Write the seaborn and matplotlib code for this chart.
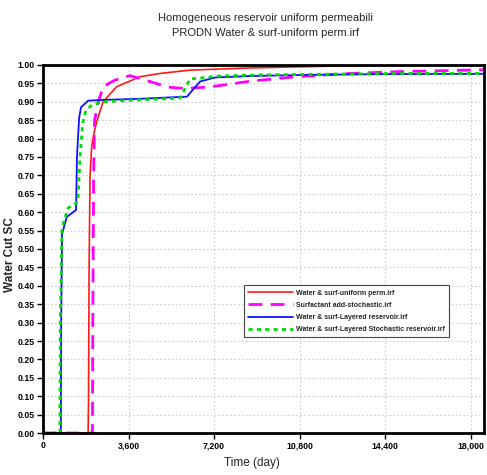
import matplotlib
matplotlib.use("Agg")
import matplotlib.pyplot as plt
import seaborn as sns
import numpy as np
from matplotlib.ticker import FuncFormatter, MultipleLocator

sns.set_style("white")
plt.rcParams['font.family'] = ['Liberation Sans Narrow', 'DejaVu Sans Condensed', 'Liberation Sans', 'DejaVu Sans']

title_lines = ["Homogeneous reservoir uniform permeabili", "PRODN Water & surf-uniform perm.irf"]
labels = ["Water & surf-uniform perm.irf",
          "Surfactant add-stochastic.irf",
          "Water & surf-Layered reservoir.irf",
          "Water & surf-Layered Stochastic reservoir.irf"]

# Water & surf-uniform perm
t_red = [0, 1900, 1915, 1940, 1980, 2050, 2150, 2260, 2530, 3100, 4080, 4930, 6190, 7870, 8720, 10820, 12210, 15030, 18560]
w_red = [0.0, 0.0, 0.08, 0.45, 0.70, 0.78, 0.816, 0.846, 0.90, 0.941, 0.968, 0.977, 0.986, 0.990, 0.992, 0.995, 0.997, 0.999, 1.0]

# Surfactant add-stochastic
t_mag = [0, 2080, 2100, 2130, 2170, 2330, 2530, 3030, 3660, 4500, 5260, 5770, 6190, 6950, 7880, 8720, 10820, 12920, 15020, 17840, 18560]
w_mag = [0.0, 0.0, 0.35, 0.70, 0.85, 0.90, 0.941, 0.959, 0.971, 0.955, 0.940, 0.937, 0.937, 0.940, 0.948, 0.956, 0.969, 0.977, 0.982, 0.986, 0.987]

# Water & surf-Layered reservoir
t_blu = [0, 750, 765, 800, 1000, 1390, 1430, 1520, 1600, 1900, 2500, 4000, 6060, 6610, 7240, 8720, 11000, 14000, 18560]
w_blu = [0.0, 0.0, 0.30, 0.54, 0.587, 0.606, 0.75, 0.856, 0.885, 0.903, 0.905, 0.908, 0.914, 0.955, 0.966, 0.970, 0.973, 0.975, 0.976]

# Water & surf-Layered Stochastic reservoir
t_grn = [0, 710, 725, 800, 1050, 1470, 1560, 1670, 1800, 2050, 2530, 4000, 5770, 6190, 7450, 9000, 12000, 15000, 18560]
w_grn = [0.0, 0.0, 0.30, 0.557, 0.611, 0.628, 0.75, 0.842, 0.875, 0.891, 0.900, 0.905, 0.910, 0.962, 0.970, 0.973, 0.975, 0.977, 0.977]

series = [(t_red, w_red), (t_mag, w_mag), (t_blu, w_blu), (t_grn, w_grn)]
colors = ["#ff1a1a", "#ff00ff", "#1010ff", "#00dd00"]
widths = [1.2, 2.0, 1.3, 2.0]
dashes = [None, (5, 3), None, (1.5, 1.5)]

fig = plt.figure(figsize=(4.87, 4.75), dpi=100)
ax = fig.add_axes([0.0883, 0.0884, 0.9055, 0.7748])

for (t, w), lab, c, lw, ds in zip(series, labels, colors, widths, dashes):
    sns.lineplot(x=t, y=w, ax=ax, color=c, linewidth=lw, label=lab, sort=False)
    if ds is not None:
        ax.lines[-1].set_dashes(ds)

ax.set_xlim(0, 18560)
ax.set_ylim(0, 1.0)
ax.xaxis.set_major_locator(MultipleLocator(3600))
ax.yaxis.set_major_locator(MultipleLocator(0.05))
ax.xaxis.set_major_formatter(FuncFormatter(lambda v, p: f"{int(v):,}"))
ax.yaxis.set_major_formatter(FuncFormatter(lambda v, p: f"{v:.2f}"))
ax.grid(True, color="#cccccc", linestyle=(0, (1.5, 2)), linewidth=0.8)
for s in ax.spines.values():
    s.set_color("black")
    s.set_linewidth(2.0)
ax.tick_params(axis="both", direction="out", length=4, width=1, colors="black",
               labelsize=6.3, bottom=True, left=True, pad=2)
for lbl in ax.get_xticklabels() + ax.get_yticklabels():
    lbl.set_fontweight("bold")

ax.set_xlabel("Time (day)", fontsize=8.5)
ax.xaxis.set_label_coords(0.474, -0.065)
ax.set_ylabel("Water Cut SC", fontsize=8.5, fontweight="bold")
ax.yaxis.set_label_coords(-0.062, 0.486)

leg = ax.legend(loc="lower left", bbox_to_anchor=(0.456, 0.26), fontsize=5.0,
                frameon=True, fancybox=False, framealpha=1, edgecolor="#444444",
                handlelength=6.5, borderpad=0.6, labelspacing=0.75, handletextpad=0.4,
                borderaxespad=0)
leg.get_frame().set_linewidth(0.8)
for txt in leg.get_texts():
    txt.set_fontweight("bold")

fig.text(0.545, 0.963, title_lines[0], ha="center", va="center", fontsize=8)
fig.text(0.545, 0.930, title_lines[1], ha="center", va="center", fontsize=8)

fig.savefig("out.png", dpi=100)
